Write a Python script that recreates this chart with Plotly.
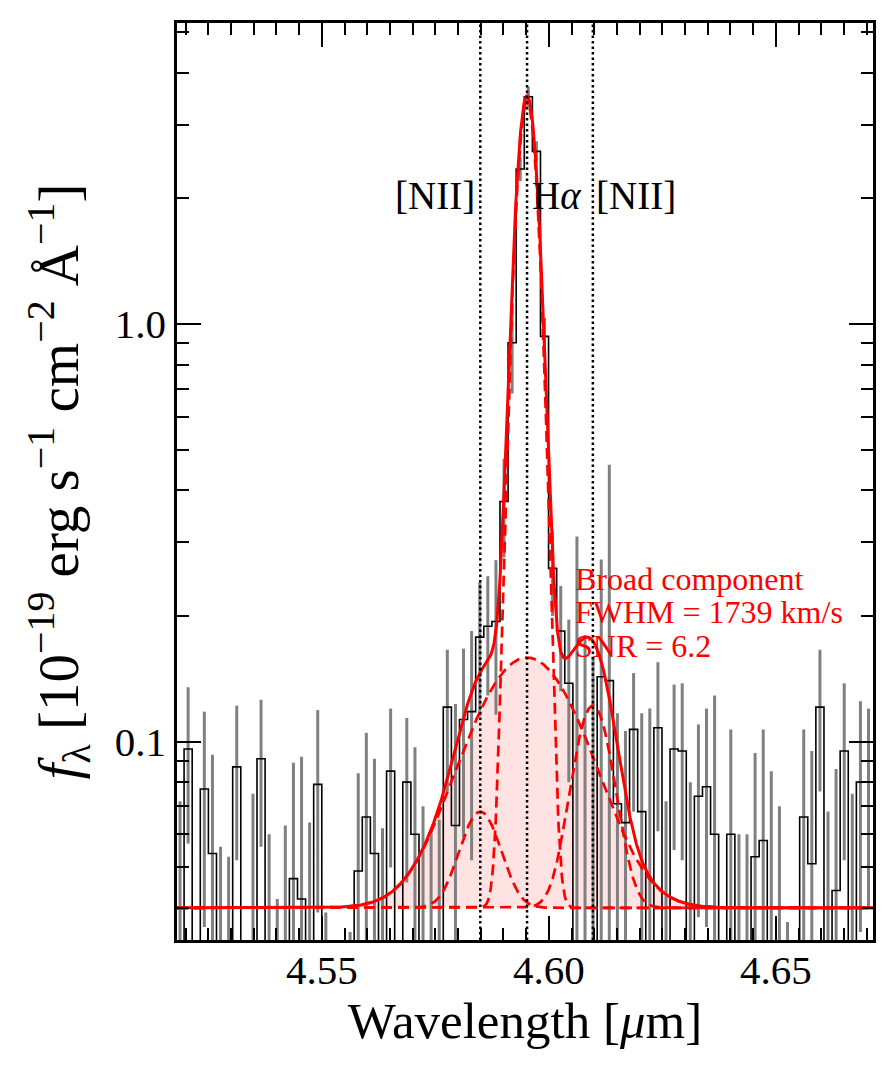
import numpy as np
import plotly.graph_objects as go

# binned spectrum: wavelength (um), f_lambda and 1-sigma error (1e-19 erg/s/cm2/A)
wave = [4.51877, 4.52055, 4.52234, 4.52412, 4.52591, 4.52769, 4.52947, 4.53126, 4.53304, 4.53483,
        4.53661, 4.53839, 4.54018, 4.54196, 4.54375, 4.54553, 4.54731, 4.54910, 4.55088, 4.55267,
        4.55445, 4.55623, 4.55802, 4.55980, 4.56159, 4.56337, 4.56515, 4.56694, 4.56872, 4.57051,
        4.57229, 4.57407, 4.57586, 4.57764, 4.57943, 4.58121, 4.58299, 4.58478, 4.58656, 4.58835,
        4.59013, 4.59191, 4.59370, 4.59548, 4.59727, 4.59905, 4.60083, 4.60262, 4.60440, 4.60619,
        4.60797, 4.60975, 4.61154, 4.61332, 4.61511, 4.61689, 4.61867, 4.62046, 4.62224, 4.62403,
        4.62581, 4.62759, 4.62938, 4.63116, 4.63295, 4.63473, 4.63651, 4.63830, 4.64008, 4.64187,
        4.64365, 4.64543, 4.64722, 4.64900, 4.65079, 4.65257, 4.65435, 4.65614, 4.65792, 4.65971,
        4.66149, 4.66327, 4.66506, 4.66684, 4.66863, 4.67041]
flux = [0.010, 0.096, -0.010, 0.077, 0.054, 0.016, 0.013, 0.087, -0.010, 0.030,
        0.091, 0.020, 0.002, 0.022, 0.047, 0.042, 0.020, 0.079, 0.000, -0.010,
        -0.012, -0.005, 0.049, 0.066, 0.054, 0.020, 0.085, -0.010, 0.080, 0.060,
        0.025, 0.020, 0.020, 0.121, 0.063, 0.113, 0.118, 0.178, 0.189, 0.194,
        0.376, 0.902, 2.35, 3.50, 2.59, 0.934, 0.260, 0.184, 0.138, 0.020,
        0.020, 0.020, 0.143, 0.140, 0.071, 0.064, 0.107, 0.068, 0.030, 0.108,
        0.025, 0.096, 0.095, 0.030, 0.074, 0.078, 0.060, -0.010, 0.060, 0.020,
        0.020, 0.053, 0.058, 0.030, 0.025, -0.005, -0.010, 0.066, 0.051, 0.121,
        0.025, 0.044, 0.095, 0.030, 0.080, 0.080]
flux_err = [0.062, 0.039, 0.030, 0.041, 0.039, 0.040, 0.040, 0.035, 0.030, 0.045,
            0.035, 0.040, 0.040, 0.041, 0.042, 0.050, 0.044, 0.040, 0.039, 0.030,
            0.030, 0.040, 0.035, 0.039, 0.037, 0.042, 0.035, 0.030, 0.034, 0.037,
            0.045, 0.041, 0.045, 0.045, 0.060, 0.054, 0.066, 0.063, 0.060, 0.078,
            0.10, 0.22, 0.15, 0.20, 0.15, 0.10, 0.060, 0.052, 0.058, 0.290,
            0.160, 0.140, 0.130, 0.320, 0.046, 0.042, 0.039, 0.049, 0.090, 0.047,
            0.047, 0.041, 0.043, 0.050, 0.036, 0.042, 0.069, 0.030, 0.047, 0.040,
            0.040, 0.041, 0.049, 0.055, 0.045, 0.042, 0.030, 0.041, 0.044, 0.045,
            0.043, 0.042, 0.043, 0.045, 0.045, 0.040]

# gaussian fit components (centre um, peak above continuum, sigma um)
continuum = 0.040
comp_names = ["[NII]6548", "Ha narrow", "[NII]6583", "Ha broad"]
comp_center = [4.5849, 4.5952, 4.6097, 4.5952]
comp_peak = [0.028, 3.36, 0.082, 0.119]
comp_sigma = [0.0041, 0.0022, 0.0040, 0.0113]

line_pos = [4.5849, 4.5952, 4.6097]
line_text = ["[NII]", "H<i>α</i>", "[NII]"]
line_text_x = [4.5749, 4.6019, 4.6193]
broad_text = ["Broad component", "FWHM = 1739 km/s", "SNR = 6.2"]

xlim = [4.5181, 4.6714]
ylim = [-1.4749, 0.7208]  # log10
serif = "Liberation Serif"

xm = np.linspace(xlim[0], xlim[1], 1500)
comps = [continuum + a * np.exp(-0.5 * ((xm - c) / s) ** 2)
         for c, a, s in zip(comp_center, comp_peak, comp_sigma)]
total = continuum + sum(c - continuum for c in comps)

fig = go.Figure()

# shaded broad component
fig.add_trace(go.Scatter(x=xm, y=np.full_like(xm, continuum), mode="lines",
                         line=dict(width=0), hoverinfo="skip", showlegend=False))
fig.add_trace(go.Scatter(x=xm, y=comps[3], mode="lines", fill="tonexty",
                         fillcolor="rgba(255,0,0,0.11)", line=dict(width=0),
                         hoverinfo="skip", showlegend=False))

# error bars
ex, ey = [], []
for w, f, e in zip(wave, flux, flux_err):
    if f + e <= 0:
        continue
    ex += [w, w, None]
    ey += [max(f - e, 1e-4), f + e, None]
fig.add_trace(go.Scatter(x=ex, y=ey, mode="lines", line=dict(color="#808080", width=3),
                         showlegend=False))

# spectrum
fig.add_trace(go.Scatter(x=wave, y=[max(f, 1e-4) for f in flux], mode="lines",
                         line=dict(color="black", width=1.6, shape="hvh"), showlegend=False))

for name, c in zip(comp_names, comps):
    fig.add_trace(go.Scatter(x=xm, y=c, mode="lines", name=name, showlegend=False,
                             line=dict(color="red", width=2.7, dash="11px,6px")))
fig.add_trace(go.Scatter(x=xm, y=total, mode="lines", showlegend=False,
                         line=dict(color="red", width=3)))

for x0 in line_pos:
    fig.add_shape(type="line", xref="x", yref="paper", x0=x0, x1=x0, y0=0, y1=1,
                  line=dict(color="black", width=2.5, dash="2.5px,3px"), layer="above")

for t, x0 in zip(line_text, line_text_x):
    fig.add_annotation(x=x0, y=0.812, xref="x", yref="paper", text=t, showarrow=False,
                       yanchor="middle", font=dict(family=serif, size=39, color="black"))

for i, t in enumerate(broad_text):
    fig.add_annotation(x=4.6053, y=0.3935 - i * 0.0362, xref="x", yref="paper", text=t,
                       showarrow=False, xanchor="left", yanchor="middle",
                       font=dict(family=serif, size=32, color="red"))

axis_common = dict(showline=True, linecolor="black", linewidth=2.6, mirror="allticks",
                   ticks="inside", ticklen=24, tickwidth=2.3, tickcolor="black",
                   showgrid=False, zeroline=False,
                   tickfont=dict(family=serif, size=41, color="black"))

fig.update_xaxes(range=xlim, tickvals=[4.55, 4.60, 4.65], ticktext=["4.55", "4.60", "4.65"],
                 ticklabelstandoff=-8,
                 minor=dict(ticks="inside", ticklen=12, tickwidth=2.3, tickcolor="black",
                            tick0=4.5, dtick=0.005),
                 title=dict(text="Wavelength [<i>μ</i>m]", font=dict(family=serif, size=51, color="black"),
                            standoff=2),
                 **axis_common)
fig.update_yaxes(type="log", range=ylim, tickvals=[0.1, 1.0], ticktext=["0.1", "1.0"],
                 minor=dict(ticks="inside", ticklen=12, tickwidth=2.3, tickcolor="black",
                            tickmode="array",
                            tickvals=[0.04, 0.05, 0.06, 0.07, 0.08, 0.09, 0.2, 0.3, 0.4, 0.5,
                                      0.6, 0.7, 0.8, 0.9, 2, 3, 4, 5]),
                 title=dict(text="<i>f</i><sub>λ</sub> [10<sup>−19</sup> erg s<sup>−1</sup> cm<sup>−2</sup> Å<sup>−1</sup>]",
                            font=dict(family=serif, size=57, color="black"), standoff=18),
                 **axis_common)

# page body adds an 8 px offset, so the canvas is trimmed by that much
fig.update_layout(width=883, height=1061, margin=dict(l=169, r=18, t=12, b=129),
                  plot_bgcolor="white", paper_bgcolor="white", showlegend=False)

fig.write_html("out.html")
